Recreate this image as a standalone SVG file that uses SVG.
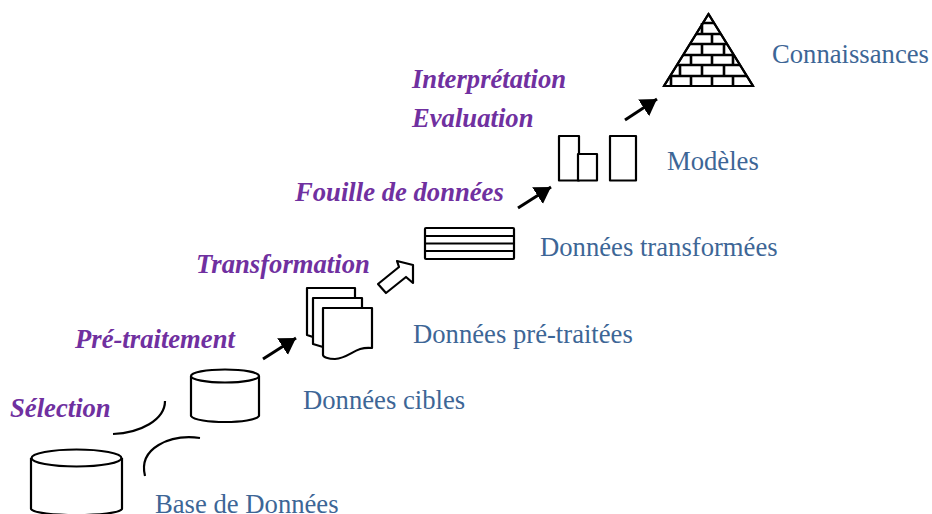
<svg xmlns="http://www.w3.org/2000/svg" width="932" height="514" viewBox="0 0 932 514">
<style>
.s{fill:#fff;stroke:#000;stroke-width:2.2;stroke-linejoin:round}
.n{fill:none;stroke:#000;stroke-width:2.2}
.b{fill:none;stroke:#000;stroke-width:2.6}
.l{font-family:"Liberation Serif",serif;font-size:26.67px;fill:#3d6696}
.p{font-family:"Liberation Serif",serif;font-size:26.67px;font-weight:bold;font-style:italic;fill:#7030a0}
.a{fill:none;stroke:#000;stroke-width:3;marker-end:url(#h)}
</style>
<defs><marker id="h" markerUnits="userSpaceOnUse" markerWidth="20" markerHeight="24" refX="16" refY="12" orient="auto"><path d="M0,2L16,12L0,22z" fill="#000"/></marker></defs>
<rect width="932" height="514" fill="#fff"/>
<g id="connectors">
<path class="n" d="M113,434C140,433 165,420 165,401"/>
<path class="n" d="M200,438C170,434 138,448 145,476"/>
<path class="a" d="M263,359L296,338"/>
<path class="s" d="M378,284L399,267L397,261L413,265V283L406,277L386,293z"/>
<path class="a" d="M518,208L551,187"/>
<path class="a" d="M625,120L657,99"/>
</g>
<g id="base"><path class="s" d="M31,458V509C35,517 118,517 122,509V458"/><ellipse class="s" cx="76.500" cy="458" rx="45" ry="8.500"/><text class="l" x="155" y="513">Base de Données</text></g>
<g id="cibles"><path class="s" d="M191,376V416C196,424 254,424 259,416V376"/><ellipse class="s" cx="225" cy="376" rx="34" ry="6.500"/><text class="l" x="303" y="409">Données cibles</text></g>
<g id="pretraitees">
<path class="s" d="M307,335V288H355V320H320L313,337z"/>
<path class="s" d="M313,344V298H362V330H330L323,347z"/>
<path class="s" d="M323,308H372V348C355,346 350,358 335,359C328,359 323,357 323,355z"/>
<text class="l" x="413" y="343">Données pré-traitées</text></g>
<g id="transformees"><rect class="s" x="425" y="228" width="89" height="31" rx="1"/><path class="n" d="M425,236H514M425,243.500H514M425,251H514"/><text class="l" x="540" y="256">Données transformées</text></g>
<g id="modeles"><rect class="s" x="559" y="136" width="20" height="44.500"/><rect class="s" x="578" y="154" width="19" height="26.500"/><rect class="s" x="610" y="136" width="26" height="44.500"/><text class="l" x="667" y="170">Modèles</text></g>
<g id="connaissances">
<path class="s" d="M708.500,14L753,86H664z"/>
<path class="b" d="M703,23H714M696,34H721M690,44H727M683,55H734M677,65H740M670,76H747"/>
<path class="b" d="M702,23V34M712,34V44M702,44V55M724,44V55M691,55V65M712,55V65M733,55V65M680,65V76M702,65V76M724,65V76M671,76V86M691,76V86M712,76V86M733,76V86"/>
<path class="n" d="M708.500,14L753,86H664z"/>
<text class="l" x="772" y="63">Connaissances</text></g>
<g id="etapes">
<text class="p" x="10" y="417">Sélection</text>
<text class="p" x="75" y="348">Pré-traitement</text>
<text class="p" x="196" y="273">Transformation</text>
<text class="p" x="295" y="201">Fouille de données</text>
<text class="p" x="412" y="88">Interprétation</text>
<text class="p" x="412" y="127">Evaluation</text>
</g>
</svg>
